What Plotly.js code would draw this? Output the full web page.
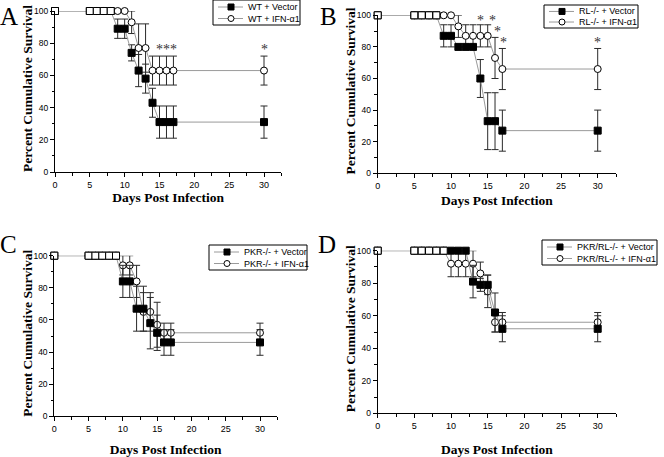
<!DOCTYPE html>
<html>
<head>
<meta charset="utf-8">
<script src="https://cdn.plot.ly/plotly-3.0.1.min.js"></script>
<style>html,body{margin:0;padding:0;background:#fff;}#chart{width:664px;height:457px;}</style>
</head>
<body>
<div id="chart"></div>
<script>
// ---- data ----
const days = [0,5,6,7,8,9,10,11,12,13,14,15,16,17,30];

const panelLetters = ["A","B","C","D"];
const vectorNames = ["WT + Vector","RL-/- + Vector","PKR-/- + Vector","PKR/RL-/- + Vector"];
const ifnNames = ["WT + IFN-α1","RL-/- + IFN-α1","PKR-/- + IFN-α1","PKR/RL-/- + IFN-α1"];

const vecA = [100,100,100,100,100,89,89,74,63,58,43,31,31,31,31];
const vecAerr = [null,null,null,null,null,6,6,5,10,9,9,10,10,10,10];
const ifnA = [100,100,100,100,100,100,100,93,77,77,63,63,63,63,63];
const ifnAerr = [null,null,null,null,null,null,null,7,15,15,9,9,9,9,9];

const vecB = [100,100,100,100,100,87,87,80,80,80,60,33,33,27,27];
const vecBerr = [null,null,null,null,null,7,7,null,null,null,12,18,18,13,13];
const ifnB = [100,100,100,100,100,100,100,93,87,87,87,87,73,66,66];
const ifnBerr = [null,null,null,null,null,null,null,7,7,7,7,7,13,13,13];

const vecC = [100,100,100,100,100,100,84,84,67,67,58,52,46,46,46];
const vecCerr = [null,null,null,null,null,null,10,10,14,14,16,11,8,8,8];
const ifnC = [100,100,100,100,100,100,94,94,84,65,65,57,52,52,52];
const ifnCerr = [null,null,null,null,null,null,6,6,10,12,12,14,6,6,6];

const vecD = [100,100,100,100,100,100,100,100,100,81,79,79,62,52,52];
const vecDerr = [null,null,null,null,null,null,null,null,null,10,4,6,12,8,8];
const ifnD = [100,100,100,100,100,100,92,92,92,92,86,75,56,56,56];
const ifnDerr = [null,null,null,null,null,null,8,8,8,8,7,10,6,6,6];

// significance marks: [day, height]
const starsA = [[15,76],[16,76],[17,76],[30,76]];
const starsB = [[14,97],[15.6,97],[16.4,90],[17.2,83],[30,83]];
const starsC = [];
const starsD = [];

const xTitle = "Days Post Infection";
const yTitle = "Percent Cumulative Survival";

// ---- build ----
const panels = [
  {vec:vecA, ve:vecAerr, ifn:ifnA, ie:ifnAerr, stars:starsA},
  {vec:vecB, ve:vecBerr, ifn:ifnB, ie:ifnBerr, stars:starsB},
  {vec:vecC, ve:vecCerr, ifn:ifnC, ie:ifnCerr, stars:starsC},
  {vec:vecD, ve:vecDerr, ifn:ifnD, ie:ifnDerr, stars:starsD}
];

const W = 664, H = 457;
// pixel geometry: [x0px (day 0), x30px (day 30), yTopPx (100), yBotPx (0)]
const geo = [
  [55, 264, 11, 172],
  [377.7, 597.7, 15.3, 173.3],
  [54.3, 260, 255.7, 416.3],
  [377.7, 597.7, 250.7, 413.3]
];
const xMax = 32.5;
// legend boxes in px: [x0, y0, x1, y1]
const legendBox = [[213,0,300,25],[544,5,638,28],[209,245,307,270],[542,240,657,265]];
const xStandoff = [3, 5, 19, 22];
const letterPos = [[9,17],[328,17],[8,244],[327,244]];

const px = v => v / W, py = v => 1 - v / H;

const traces = [];
const layout = {
  width: W, height: H,
  margin: {l:0,r:0,t:0,b:0},
  paper_bgcolor: "#fff", plot_bgcolor: "#fff",
  showlegend: false,
  annotations: [],
  shapes: [],
  font: {family: "Liberation Sans, Arial, sans-serif", color: "#000"}
};

const lineGray = "#9a9a9a";
const errColor = "#2a2a2a";
const serif = "Liberation Serif, Times New Roman, serif";
const sans = "Liberation Sans, Arial, sans-serif";

panels.forEach((p, i) => {
  const n = i + 1;
  const xa = "x" + (n === 1 ? "" : n), ya = "y" + (n === 1 ? "" : n);
  const g = geo[i];
  const pxPerDay = (g[1] - g[0]) / 30;
  const xEnd = g[0] + pxPerDay * xMax;

  const errPlus = p.ie.map((e, k) => e === null ? null : Math.min(e, 100 - p.ifn[k]));
  traces.push({
    x: days, y: p.ifn, xaxis: xa, yaxis: ya,
    name: ifnNames[i],
    mode: "lines+markers", cliponaxis: false,
    line: {color: lineGray, width: 1},
    marker: {symbol: "circle", size: 7, color: "#fff", line: {color: "#000", width: 1}},
    error_y: {type: "data", symmetric: false, array: errPlus, arrayminus: p.ie,
              color: errColor, thickness: 1, width: 3.5}
  });
  const vErrPlus = p.ve.map((e, k) => e === null ? null : Math.min(e, 100 - p.vec[k]));
  traces.push({
    x: days, y: p.vec, xaxis: xa, yaxis: ya,
    name: vectorNames[i],
    mode: "lines+markers", cliponaxis: false,
    line: {color: lineGray, width: 1},
    marker: {symbol: "square", size: 7, color: "#000", line: {color: "#000", width: 1}},
    error_y: {type: "data", symmetric: false, array: vErrPlus, arrayminus: p.ve,
              color: errColor, thickness: 1, width: 3.5}
  });
  // coincident points drawn as open squares
  const ox = [], oy = [];
  days.forEach((d, k) => { if (p.vec[k] === p.ifn[k]) { ox.push(d); oy.push(p.vec[k]); } });
  traces.push({
    x: ox, y: oy, xaxis: xa, yaxis: ya, hoverinfo: "skip",
    mode: "markers", cliponaxis: false,
    marker: {symbol: "square", size: 7, color: "#fff", line: {color: "#000", width: 1}}
  });

  const xKey = "xaxis" + (n === 1 ? "" : n), yKey = "yaxis" + (n === 1 ? "" : n);
  layout[xKey] = {
    domain: [g[0] / W, xEnd / W], anchor: ya, range: [0, xMax],
    tick0: 0, dtick: 5, ticks: "outside", ticklen: 4, tickwidth: 1, tickcolor: "#000",
    minor: {dtick: 2.5, ticks: "outside", ticklen: 2.5, tickcolor: "#000"},
    showline: true, linecolor: "#000", linewidth: 1, showgrid: false, zeroline: false,
    tickfont: {size: 9, family: sans, color: "#000"},
    title: {text: xTitle, standoff: xStandoff[i],
            font: {size: 13.5, family: serif, weight: "bold", color: "#000"}},
    automargin: false, fixedrange: true
  };
  layout[yKey] = {
    domain: [1 - g[3] / H, 1 - g[2] / H], anchor: xa, range: [0, 100],
    tick0: 0, dtick: 20, ticks: "outside", ticklen: 4, tickwidth: 1, tickcolor: "#000",
    minor: {dtick: 10, ticks: "outside", ticklen: 2.5, tickcolor: "#000"},
    showline: true, linecolor: "#000", linewidth: 1, showgrid: false, zeroline: false,
    tickfont: {size: 8.5, family: sans, color: "#000"},
    automargin: false, fixedrange: true
  };
  // y axis title
  layout.annotations.push({
    xref: "paper", yref: "paper", x: px(g[0] - 27.5), y: py((g[2] + g[3]) / 2 - 3),
    xanchor: "center", yanchor: "middle", textangle: -90, showarrow: false,
    text: "<b>" + yTitle + "</b>",
    font: {size: 13.5, family: serif, color: "#000"}
  });

  // legend box
  const b = legendBox[i];
  layout.shapes.push({type: "rect", xref: "paper", yref: "paper",
    x0: px(b[0]), x1: px(b[2]), y0: py(b[1]), y1: py(b[3]),
    line: {color: "#000", width: 1}, fillcolor: "#fff", layer: "above"});
  const rows = [
    {name: vectorNames[i], sym: "square", yy: b[1] + (b[3] - b[1]) * 0.28},
    {name: ifnNames[i], sym: "circle", yy: b[1] + (b[3] - b[1]) * 0.74}
  ];
  rows.forEach(r => {
    layout.shapes.push({type: "line", xref: "paper", yref: "paper",
      x0: px(b[0] + 5), x1: px(b[0] + 30), y0: py(r.yy), y1: py(r.yy),
      line: {color: lineGray, width: 1}, layer: "above"});
    const s = 3;
    layout.shapes.push({type: r.sym === "square" ? "rect" : "circle", xref: "paper", yref: "paper",
      x0: px(b[0] + 18 - s), x1: px(b[0] + 18 + s), y0: py(r.yy - s), y1: py(r.yy + s),
      line: {color: "#000", width: 1}, fillcolor: r.sym === "square" ? "#000" : "#fff", layer: "above"});
    layout.annotations.push({
      xref: "paper", yref: "paper", x: px(b[0] + 33), y: py(r.yy),
      xanchor: "left", yanchor: "middle", showarrow: false, text: r.name,
      font: {size: 9, family: sans, color: "#000"}
    });
  });

  p.stars.forEach(s => {
    layout.annotations.push({
      xref: xa, yref: ya, x: s[0], y: s[1], text: "*", showarrow: false,
      font: {size: 14, family: serif, color: "#333"}
    });
  });
  layout.annotations.push({
    xref: "paper", yref: "paper", x: px(letterPos[i][0]), y: py(letterPos[i][1]),
    xanchor: "center", yanchor: "middle", text: panelLetters[i], showarrow: false,
    font: {size: 25, family: serif, color: "#000"}
  });
});

Plotly.newPlot("chart", traces, layout, {staticPlot: true, displayModeBar: false});
</script>
</body>
</html>
